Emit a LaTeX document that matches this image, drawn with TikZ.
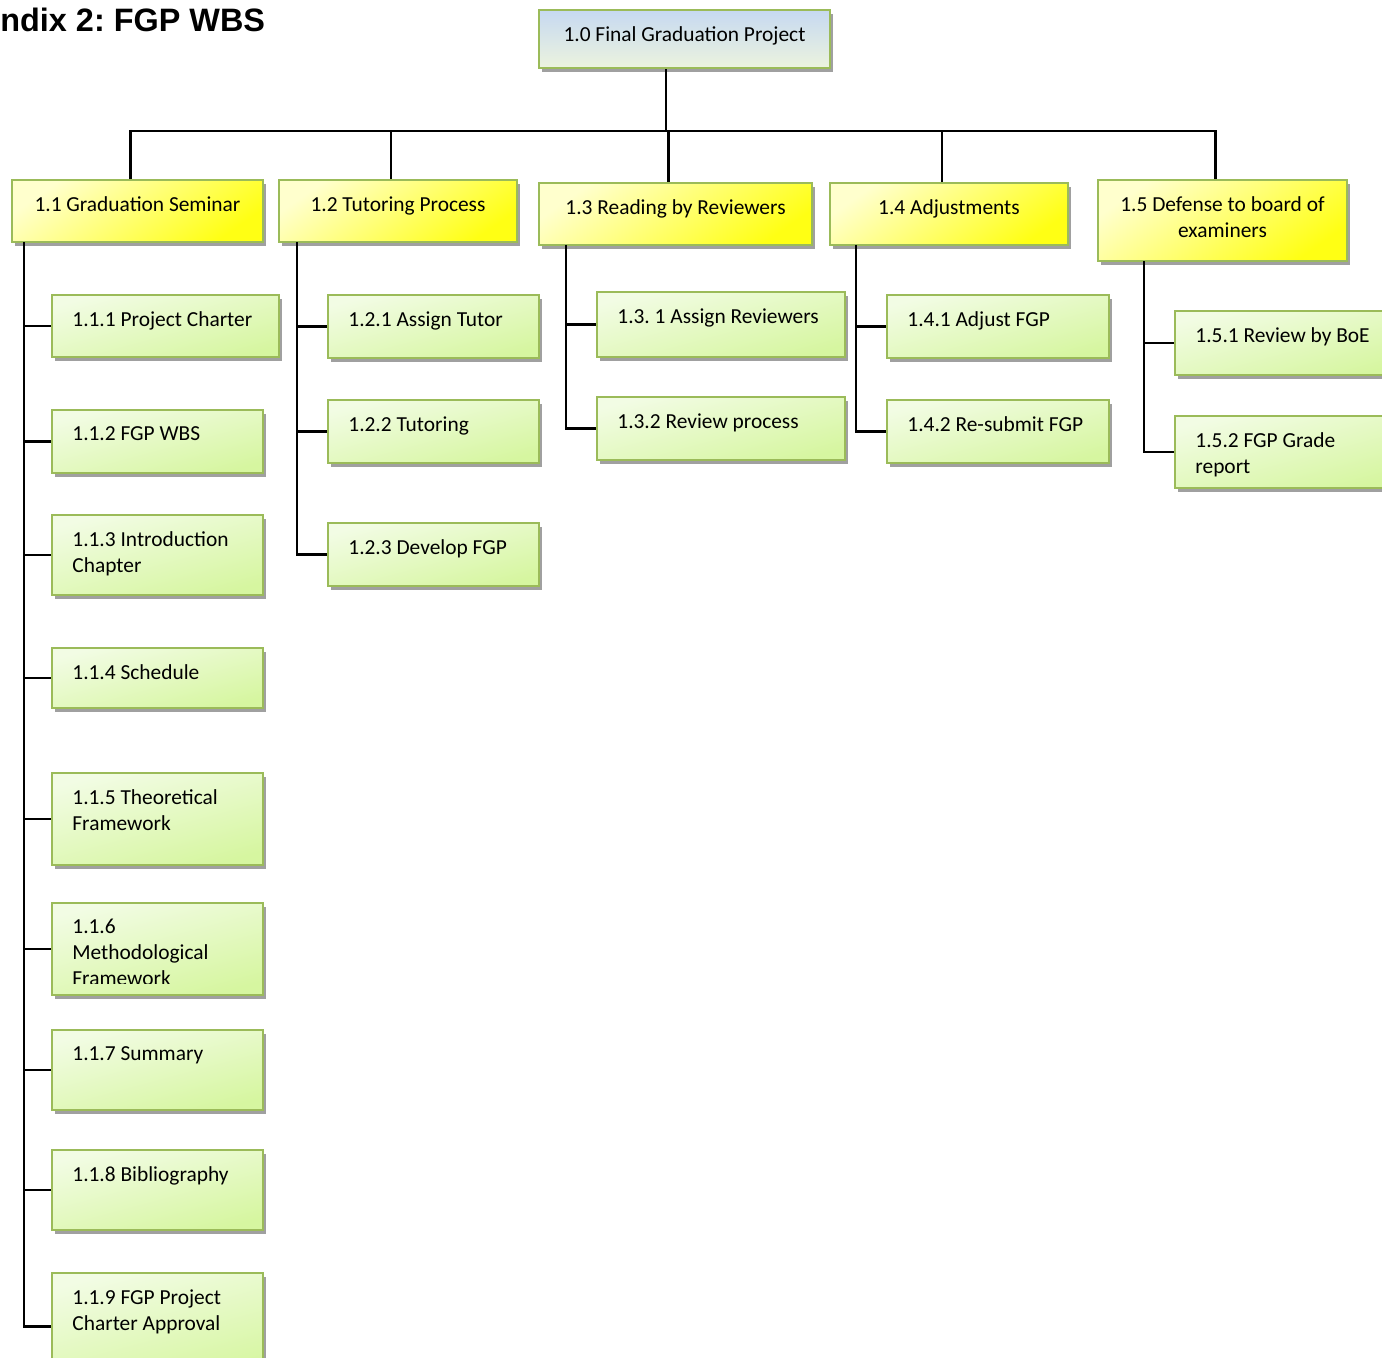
\documentclass[tikz,border=0pt]{standalone}
\usepackage{fontspec}
\setmainfont{Carlito}
\newfontfamily\titlefont{Liberation Sans}
\usetikzlibrary{fit,shadows}

\definecolor{boxgreen}{RGB}{155,187,89}
\definecolor{shadowgray}{RGB}{160,160,160}
\definecolor{topblue}{RGB}{198,217,241}
\definecolor{topgreen}{RGB}{236,243,222}
\definecolor{yellowlight}{RGB}{255,255,205}
\definecolor{yellowdeep}{RGB}{255,255,20}
\definecolor{greenlight}{RGB}{242,252,228}
\definecolor{greendeep}{RGB}{214,246,160}

\newcommand{\wbsfont}{\fontsize{10.7pt}{13pt}\selectfont}

\tikzset{
  wbsbox/.style={draw=boxgreen, line width=1pt, inner sep=0pt,
    drop shadow={shadow xshift=1.5pt, shadow yshift=-2pt, fill=shadowgray, opacity=1}},
  topbox/.style={wbsbox, top color=topblue, bottom color=topgreen},
  phasebox/.style={wbsbox, top color=yellowlight, bottom color=yellowdeep, shading angle=35},
  taskbox/.style={wbsbox, top color=greenlight, bottom color=greendeep, shading angle=15},
  tasktext/.style={font=\wbsfont, inner sep=0pt, anchor=north west, align=left},
  phasetext/.style={font=\wbsfont, inner sep=0pt, anchor=north, align=center},
  link/.style={line width=1.2pt, black},
}

\begin{document}
\frenchspacing
\begin{tikzpicture}[x=0.5pt, y=-0.5pt]
    \useasboundingbox (0,0) rectangle (1382,1357);
    \clip (0,0) rectangle (1382,1357);

    % Title (cut at the left edge)
    \node[font=\titlefont\bfseries\fontsize{16.2pt}{18pt}\selectfont, anchor=north west, inner sep=0pt] (title) at (0,8) {ndix 2: FGP WBS};

    % Level 0
    \node[topbox, fit={(539,10) (830,68)}] (b10) {};
    \node[phasetext] (t10) at ([yshift=-8.5pt]b10.north) {1.0 Final Graduation Project};

    % Level 1
    \node[phasebox, fit={(12,180) (263,242)}] (b11) {};
    \node[phasebox, fit={(279,180) (517,242)}] (b12) {};
    \node[phasebox, fit={(539,183) (812,245)}] (b13) {};
    \node[phasebox, fit={(830,183) (1068,245)}] (b14) {};
    \node[phasebox, fit={(1098,180) (1347,261)}] (b15) {};
    \node[phasetext] (t11) at ([yshift=-8.5pt]b11.north) {1.1 Graduation Seminar};
    \node[phasetext] (t12) at ([yshift=-8.5pt]b12.north) {1.2 Tutoring Process};
    \node[phasetext] (t13) at ([yshift=-8.5pt]b13.north) {1.3 Reading by Reviewers};
    \node[phasetext] (t14) at ([yshift=-8.5pt]b14.north) {1.4 Adjustments};
    \node[phasetext] (t15) at ([yshift=-8.5pt]b15.north) {1.5 Defense to board of\\examiners};

    % Level 2 under 1.1
    \node[taskbox, fit={(52,295) (279,357)}] (b111) {};
    \node[taskbox, fit={(52,410) (263,473)}] (b112) {};
    \node[taskbox, fit={(52,515) (263,595)}] (b113) {};
    \node[taskbox, fit={(52,648) (263,708)}] (b114) {};
    \node[taskbox, fit={(52,773) (263,865)}] (b115) {};
    \node[taskbox, fit={(52,903) (263,995)}] (b116) {};
    \node[taskbox, fit={(52,1030) (263,1110)}] (b117) {};
    \node[taskbox, fit={(52,1150) (263,1230)}] (b118) {};
    \node[taskbox, fit={(52,1273) (263,1380)}] (b119) {};
    \node[tasktext] (t111) at ([shift={(21,17)}]b111.north west) {1.1.1 Project Charter};
    \node[tasktext] (t112) at ([shift={(21,17)}]b112.north west) {1.1.2 FGP WBS};
    \node[tasktext] (t113) at ([shift={(21,17)}]b113.north west) {1.1.3 Introduction\\Chapter};
    \node[tasktext] (t114) at ([shift={(21,17)}]b114.north west) {1.1.4 Schedule};
    \node[tasktext] (t115) at ([shift={(21,17)}]b115.north west) {1.1.5 Theoretical\\Framework};
    \begin{scope}
        \clip (b116.north west) rectangle ([yshift=6.5pt]b116.south east);
        \node[tasktext] (t116) at ([shift={(21,17)}]b116.north west) {1.1.6\\Methodological\\Framework};
    \end{scope}
    \node[tasktext] (t117) at ([shift={(21,17)}]b117.north west) {1.1.7 Summary};
    \node[tasktext] (t118) at ([shift={(21,17)}]b118.north west) {1.1.8 Bibliography};
    \node[tasktext] (t119) at ([shift={(21,17)}]b119.north west) {1.1.9 FGP Project\\Charter Approval};

    % Level 2 under 1.2
    \node[taskbox, fit={(328,295) (539,358)}] (b121) {};
    \node[taskbox, fit={(328,400) (539,463)}] (b122) {};
    \node[taskbox, fit={(328,523) (539,586)}] (b123) {};
    \node[tasktext] (t121) at ([shift={(21,17)}]b121.north west) {1.2.1 Assign Tutor};
    \node[tasktext] (t122) at ([shift={(21,17)}]b122.north west) {1.2.2 Tutoring};
    \node[tasktext] (t123) at ([shift={(21,17)}]b123.north west) {1.2.3 Develop FGP};

    % Level 2 under 1.3
    \node[taskbox, fit={(597,292) (845,357)}] (b131) {};
    \node[taskbox, fit={(597,397) (845,460)}] (b132) {};
    \node[tasktext] (t131) at ([shift={(21,17)}]b131.north west) {1.3. 1 Assign Reviewers};
    \node[tasktext] (t132) at ([shift={(21,17)}]b132.north west) {1.3.2 Review process};

    % Level 2 under 1.4
    \node[taskbox, fit={(887,295) (1109,358)}] (b141) {};
    \node[taskbox, fit={(887,400) (1109,463)}] (b142) {};
    \node[tasktext] (t141) at ([shift={(21,17)}]b141.north west) {1.4.1 Adjust FGP};
    \node[tasktext] (t142) at ([shift={(21,17)}]b142.north west) {1.4.2 Re-submit FGP};

    % Level 2 under 1.5
    \node[taskbox, fit={(1175,311) (1400,375)}] (b151) {};
    \node[taskbox, fit={(1175,416) (1400,488)}] (b152) {};
    \node[tasktext] (t151) at ([shift={(21,17)}]b151.north west) {1.5.1 Review by BoE};
    \node[tasktext] (t152) at ([shift={(21,17)}]b152.north west) {1.5.2 FGP Grade\\report};

    % Connectors from the root to the phases
    \coordinate (bus) at (666,131);
    \draw[link] ([xshift=-9.25pt]b10.south) -- (bus);
    \foreach \p in {b11,b12,b13,b14,b15}
        \draw[link] ([xshift=-3.5pt]\p.north) |- (bus);

    % Connectors from each phase to its tasks
    \coordinate (s11) at (24,242);
    \coordinate (s12) at (297,242);
    \coordinate (s13) at (566,245);
    \coordinate (s14) at (856,245);
    \coordinate (s15) at (1144,261);
    \foreach \c in {b111,b112,b113,b114,b115,b116,b117,b118,b119}
        \draw[link] (s11) |- (\c.west);
    \foreach \c in {b121,b122,b123}
        \draw[link] (s12) |- (\c.west);
    \foreach \c in {b131,b132}
        \draw[link] (s13) |- (\c.west);
    \foreach \c in {b141,b142}
        \draw[link] (s14) |- (\c.west);
    \foreach \c in {b151,b152}
        \draw[link] (s15) |- (\c.west);
\end{tikzpicture}
\end{document}
